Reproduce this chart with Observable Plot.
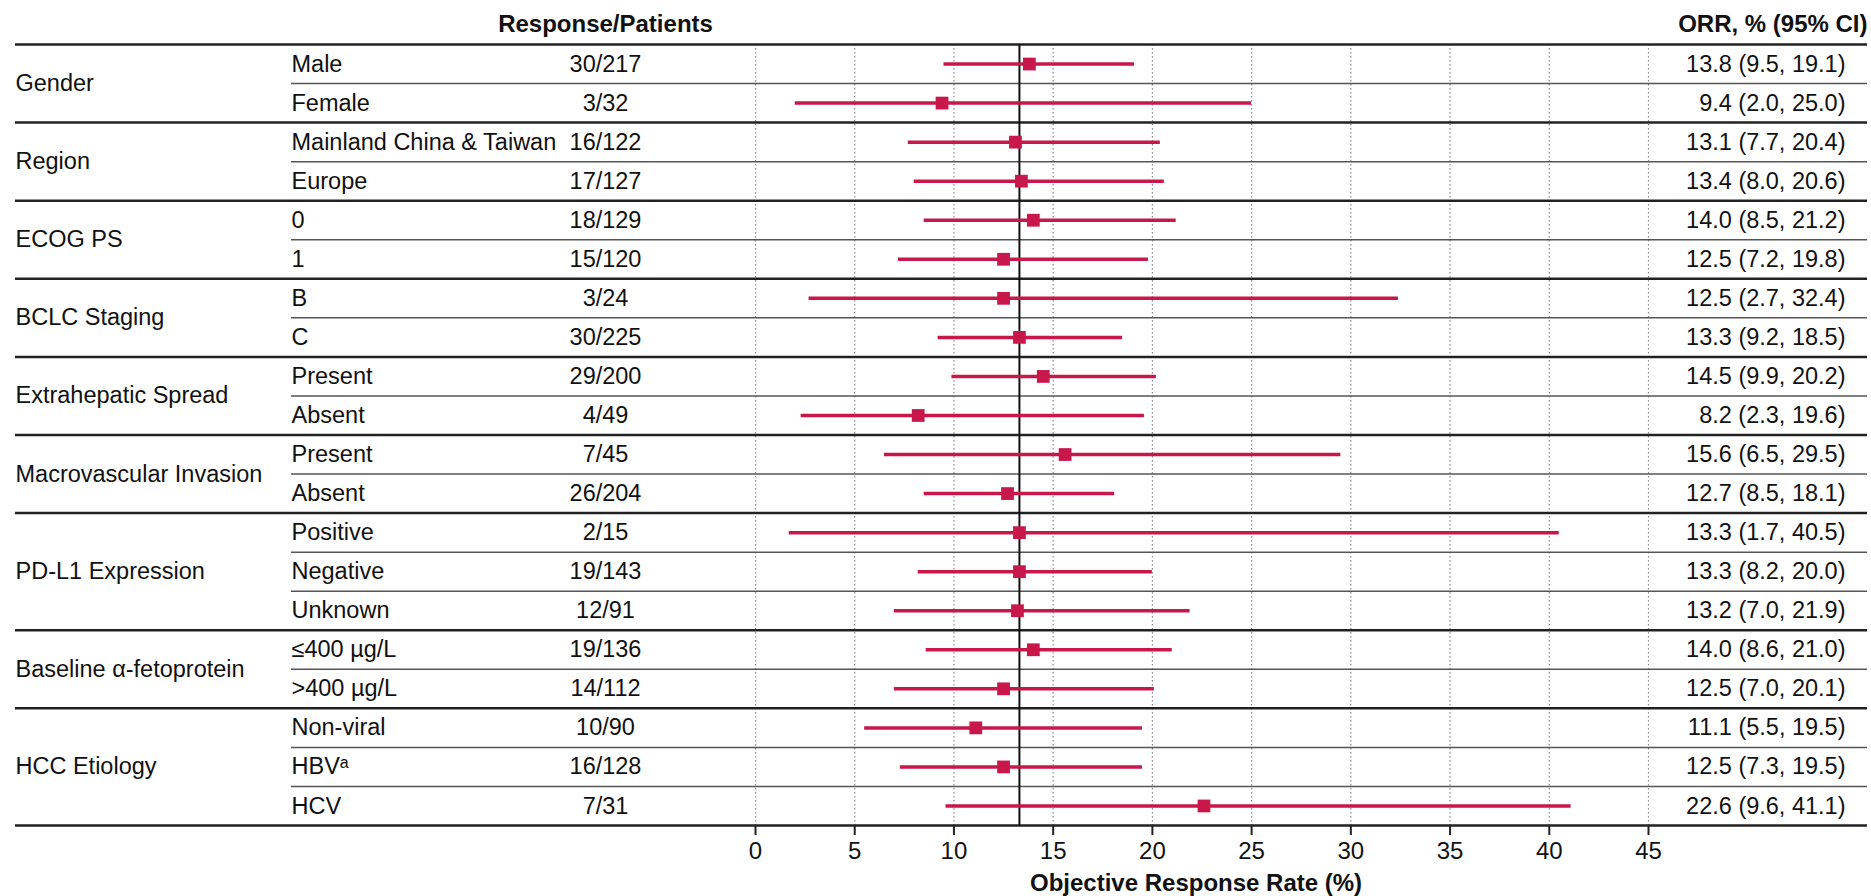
<!DOCTYPE html>
<html>
<head>
<meta charset="utf-8">
<script src="https://cdn.jsdelivr.net/npm/d3@7"></script>
<script src="https://cdn.jsdelivr.net/npm/@observablehq/plot@0.6"></script>
<style>
  html, body { margin: 0; padding: 0; background: #fff; }
  #chart svg { display: block; }
</style>
</head>
<body>
<div id="chart"></div>
<script>
// ---------------- data ----------------
const groups = ["Gender", "Region", "ECOG PS", "BCLC Staging", "Extrahepatic Spread",
  "Macrovascular Invasion", "PD-L1 Expression", "Baseline α-fetoprotein", "HCC Etiology"];
const groupSizes = [2, 2, 2, 2, 2, 2, 3, 2, 3];
const subgroups = ["Male", "Female", "Mainland China & Taiwan", "Europe", "0", "1", "B", "C",
  "Present", "Absent", "Present", "Absent", "Positive", "Negative", "Unknown",
  "≤400 µg/L", ">400 µg/L", "Non-viral", "HBVᵃ", "HCV"];
const responsePatients = ["30/217", "3/32", "16/122", "17/127", "18/129", "15/120", "3/24", "30/225",
  "29/200", "4/49", "7/45", "26/204", "2/15", "19/143", "12/91", "19/136", "14/112",
  "10/90", "16/128", "7/31"];
const orr = [13.8, 9.4, 13.1, 13.4, 14.0, 12.5, 12.5, 13.3, 14.5, 8.2, 15.6, 12.7, 13.3, 13.3, 13.2,
  14.0, 12.5, 11.1, 12.5, 22.6];
const ciLower = [9.5, 2.0, 7.7, 8.0, 8.5, 7.2, 2.7, 9.2, 9.9, 2.3, 6.5, 8.5, 1.7, 8.2, 7.0,
  8.6, 7.0, 5.5, 7.3, 9.6];
const ciUpper = [19.1, 25.0, 20.4, 20.6, 21.2, 19.8, 32.4, 18.5, 20.2, 19.6, 29.5, 18.1, 40.5, 20.0, 21.9,
  21.0, 20.1, 19.5, 19.5, 41.1];
const overallOrr = 13.3;
const xTicks = [0, 5, 10, 15, 20, 25, 30, 35, 40, 45];
const headerResponse = "Response/Patients";
const headerOrr = "ORR, % (95% CI)";
const xLabel = "Objective Response Rate (%)";

// ---------------- layout ----------------
const W = 1871, H = 896;
const mTop = 44, mBottom = 71, mLeft = 15, mRight = 4;
const plotX0 = 755, plotX1 = 1648;      // pixel range of 0..45
const subColX = 291;                    // subgroup column start
const respColX = 605;                   // response column center
const orrColRight = 1845;               // ORR text right edge
const crimson = "#c8174b";
const fontFamily = "'Liberation Sans', Arial, Helvetica, sans-serif";
const bodySize = 23.5;

const nRows = subgroups.length;
const rows = subgroups.map((s, i) => ({
  i, sub: s, resp: responsePatients[i], orr: orr[i], lo: ciLower[i], hi: ciUpper[i],
  label: `${orr[i].toFixed(1)} (${ciLower[i].toFixed(1)}, ${ciUpper[i].toFixed(1)})`
}));
let acc = 0;
const groupRows = groups.map((g, k) => {
  const start = acc; acc += groupSizes[k];
  return {g, start, end: acc, mid: (start + acc) / 2};
});
const groupSeps = [0, ...groupRows.map(d => d.end)];
const subSeps = [];
groupRows.forEach(d => { for (let r = d.start + 1; r < d.end; r++) subSeps.push(r); });

const xs = d3.scaleLinear([0, 45], [plotX0, plotX1]);

const chart = Plot.plot({
  width: W, height: H,
  marginTop: mTop, marginBottom: mBottom, marginLeft: mLeft, marginRight: mRight,
  style: {fontFamily, fontSize: bodySize + "px", color: "#111", background: "#fff"},
  x: {domain: [0, 45], range: [plotX0, plotX1]},
  y: {domain: [0, nRows], range: [mTop, H - mBottom], axis: null},
  marks: [
    // dotted gridlines
    Plot.ruleX(xTicks, {y1: 0, y2: nRows, stroke: "#8c8c8c", strokeWidth: 1.2, strokeDasharray: "1.5,2.5"}),
    // thin subgroup separators
    Plot.ruleY(subSeps, {x1: xs.invert(subColX), x2: xs.invert(W - mRight), stroke: "#555", strokeWidth: 1.5}),
    // thick group separators
    Plot.ruleY(groupSeps, {stroke: "#222", strokeWidth: 2.5}),
    // overall reference line
    Plot.ruleX([overallOrr], {y1: 0, y2: nRows, stroke: "#111", strokeWidth: 2}),
    // CIs
    Plot.ruleY(rows, {y: d => d.i + 0.5, x1: "lo", x2: "hi", stroke: crimson, strokeWidth: 3.5}),
    // point estimates
    Plot.dot(rows, {x: "orr", y: d => d.i + 0.5, symbol: "square", r: 7.2, fill: crimson, stroke: "none"}),
    // group labels
    Plot.text(groupRows, {y: "mid", text: "g", frameAnchor: "left", textAnchor: "start", fontSize: bodySize, fill: "#111"}),
    // subgroup labels
    Plot.text(rows, {y: d => d.i + 0.5, text: "sub", frameAnchor: "left", dx: subColX - mLeft, textAnchor: "start", fontSize: bodySize, fill: "#111"}),
    // response/patients
    Plot.text(rows, {y: d => d.i + 0.5, text: "resp", frameAnchor: "left", dx: respColX - mLeft, textAnchor: "middle", fontSize: bodySize, fill: "#111"}),
    // ORR (CI)
    Plot.text(rows, {y: d => d.i + 0.5, text: "label", frameAnchor: "right", dx: orrColRight - (W - mRight), textAnchor: "end", fontSize: bodySize, fill: "#111"}),
    // headers
    Plot.text([headerResponse], {y: -0.52, text: d => d, frameAnchor: "left", dx: respColX - mLeft, textAnchor: "middle", fontSize: 24, fontWeight: "bold", fill: "#111"}),
    Plot.text([headerOrr], {y: -0.52, text: d => d, frameAnchor: "right", textAnchor: "end", fontSize: 24, fontWeight: "bold", fill: "#111"}),
    // x axis
    Plot.axisX(xTicks, {anchor: "bottom", tickSize: 10, tickPadding: 6, fontSize: 24, label: null, stroke: "#222", strokeWidth: 2, fill: "#111"}),
    Plot.text([xLabel], {x: 22.2, y: nRows, dy: 58, text: d => d, textAnchor: "middle", fontSize: 24, fontWeight: "bold", fill: "#111"})
  ]
});
document.getElementById("chart").appendChild(chart);
</script>
</body>
</html>
